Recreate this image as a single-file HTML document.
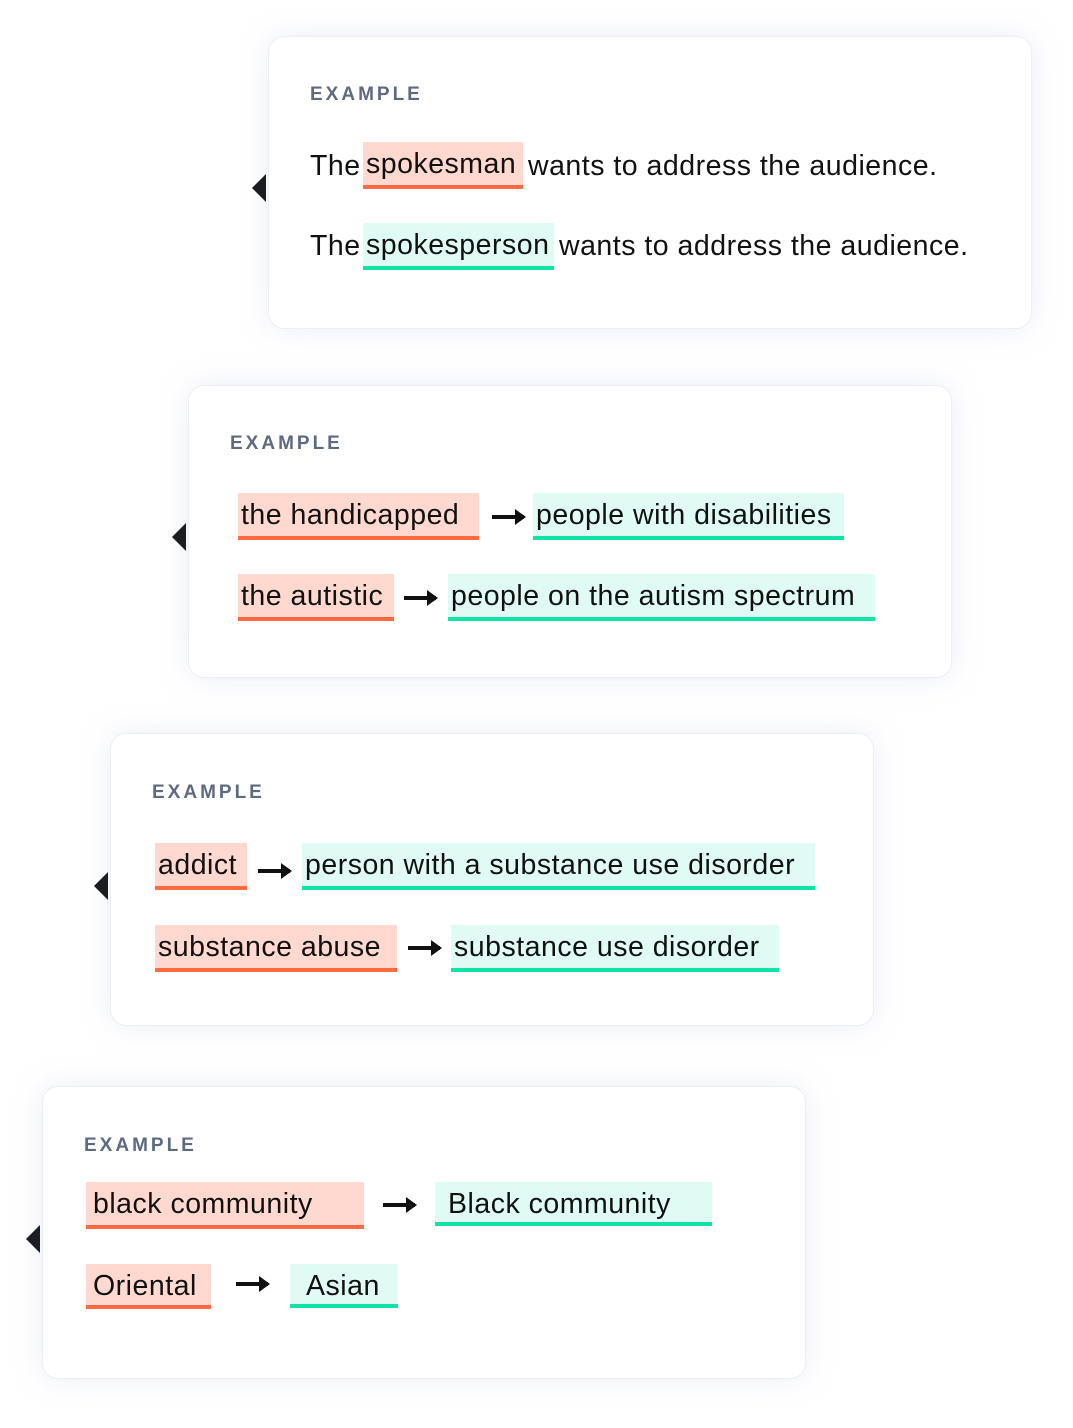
<!DOCTYPE html>
<html><head><meta charset="utf-8"><style>
html,body{margin:0;padding:0;background:#fff;}
body{width:1073px;height:1428px;position:relative;overflow:hidden;font-family:"Liberation Sans",sans-serif;}
.card{position:absolute;width:764px;height:293px;background:#fff;border:1.5px solid #eceef4;border-radius:16px;box-shadow:0 0 30px rgba(200,205,230,0.35);box-sizing:border-box;}
.tri{position:absolute;width:0;height:0;border-top:14px solid transparent;border-bottom:14px solid transparent;border-right:14px solid #1b1d22;}
.lbl{position:absolute;font-size:19px;font-weight:bold;letter-spacing:3px;color:#5d6a80;}
.t{position:absolute;font-size:28.5px;letter-spacing:0.5px;color:#111;white-space:nowrap;line-height:44px;}
.r,.g{position:absolute;box-sizing:border-box;font-size:28.5px;letter-spacing:0.5px;color:#111;white-space:nowrap;line-height:44px;padding-left:3px;}
.r{background:#ffd9cf;border-bottom:4px solid #ff6a40;}
.g{background:#e0fbf3;border-bottom:4px solid #10e3a6;}
.ar{position:absolute;height:4px;background:#111;}
.ar:after{content:"";position:absolute;right:-2px;top:-6px;border-top:8px solid transparent;border-bottom:8px solid transparent;border-left:11px solid #111;}
</style></head><body>
<div class="card" style="left:268px;top:36px"></div>
<div class="tri" style="left:252px;top:174px"></div>
<div class="lbl" style="left:310px;top:84px">EXAMPLE</div>
<div class="t" style="left:310px;top:144px">The</div>
<div class="r" style="left:363px;top:142px;width:160px;height:47px">spokesman</div>
<div class="t" style="left:528px;top:144px">wants to address the audience.</div>
<div class="t" style="left:310px;top:224px">The</div>
<div class="g" style="left:363px;top:223px;width:191px;height:47px">spokesperson</div>
<div class="t" style="left:559px;top:224px">wants to address the audience.</div>

<div class="card" style="left:188px;top:385px"></div>
<div class="tri" style="left:172px;top:523px"></div>
<div class="lbl" style="left:230px;top:433px">EXAMPLE</div>
<div class="r" style="left:238px;top:493px;width:241px;height:47px">the handicapped</div>
<div class="ar" style="left:492px;top:515px;width:32px"></div>
<div class="g" style="left:533px;top:493px;width:311px;height:47px">people with disabilities</div>
<div class="r" style="left:238px;top:574px;width:156px;height:47px">the autistic</div>
<div class="ar" style="left:404px;top:596px;width:32px"></div>
<div class="g" style="left:448px;top:574px;width:427px;height:47px">people on the autism spectrum</div>

<div class="card" style="left:110px;top:733px"></div>
<div class="tri" style="left:94px;top:872px"></div>
<div class="lbl" style="left:152px;top:782px">EXAMPLE</div>
<div class="r" style="left:155px;top:843px;width:92px;height:47px">addict</div>
<div class="ar" style="left:258px;top:869px;width:32px"></div>
<div class="g" style="left:302px;top:843px;width:513px;height:47px">person with a substance use disorder</div>
<div class="r" style="left:155px;top:925px;width:242px;height:47px">substance abuse</div>
<div class="ar" style="left:408px;top:946px;width:32px"></div>
<div class="g" style="left:451px;top:925px;width:328px;height:47px">substance use disorder</div>

<div class="card" style="left:42px;top:1086px"></div>
<div class="tri" style="left:26px;top:1225px"></div>
<div class="lbl" style="left:84px;top:1135px">EXAMPLE</div>
<div class="r" style="left:86px;top:1182px;width:278px;height:47px;padding-left:7px">black community</div>
<div class="ar" style="left:383px;top:1203px;width:32px"></div>
<div class="g" style="left:435px;top:1182px;width:277px;height:44px;padding-left:13px">Black community</div>
<div class="r" style="left:86px;top:1264px;width:125px;height:45px;padding-left:7px">Oriental</div>
<div class="ar" style="left:236px;top:1282px;width:32px"></div>
<div class="g" style="left:290px;top:1264px;width:108px;height:44px;padding-left:16px">Asian</div>
</body></html>
